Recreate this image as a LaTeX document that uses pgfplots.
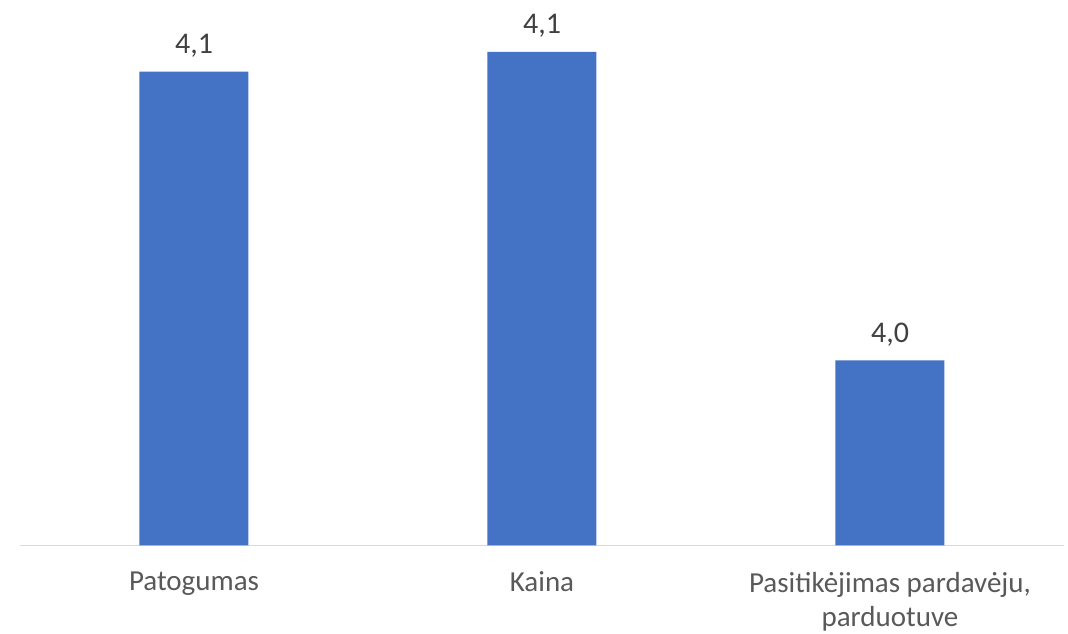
\documentclass[border=0pt]{standalone}
\usepackage{pgfplots}
\pgfplotsset{compat=1.18}
\usepackage{fontspec}
\setmainfont{Carlito}
\definecolor{barblue}{HTML}{4472C4}
\definecolor{axisgray}{HTML}{D9D9D9}
\definecolor{labelgray}{HTML}{595959}
\definecolor{valgray}{HTML}{404040}
\begin{document}
\begin{tikzpicture}
\useasboundingbox (0,0) rectangle (1068pt,634pt);
\begin{axis}[
  at={(20pt,88.5pt)}, anchor=south west,
  scale only axis,
  width=1044pt, height=545.5pt,
  xmin=-0.5, xmax=2.5,
  ymin=3.9, ymax=4.121,
  axis y line=none,
  axis x line*=bottom,
  x axis line style={axisgray, line width=1.3pt, -},
  xtick=data,
  xticklabels={Patogumas, Kaina, {Pasitikėjimas pardavėju,\\parduotuve}},
  xticklabel style={align=center, font=\fontsize{29}{34}\selectfont, text=labelgray, yshift=-23pt},
  major tick length=0pt,
  ytick=\empty,
  ybar, bar width=109pt,
  clip=false,
  nodes near coords,
  nodes near coords style={font=\fontsize{30}{36}\selectfont, text=valgray, yshift=11pt,
    /pgf/number format/.cd, fixed, fixed zerofill, precision=1, use comma, assume math mode=true},
]
\addplot[fill=barblue, draw=none] coordinates {(0,4.092) (1,4.100) (2,3.975)};
\end{axis}
\end{tikzpicture}
\end{document}
